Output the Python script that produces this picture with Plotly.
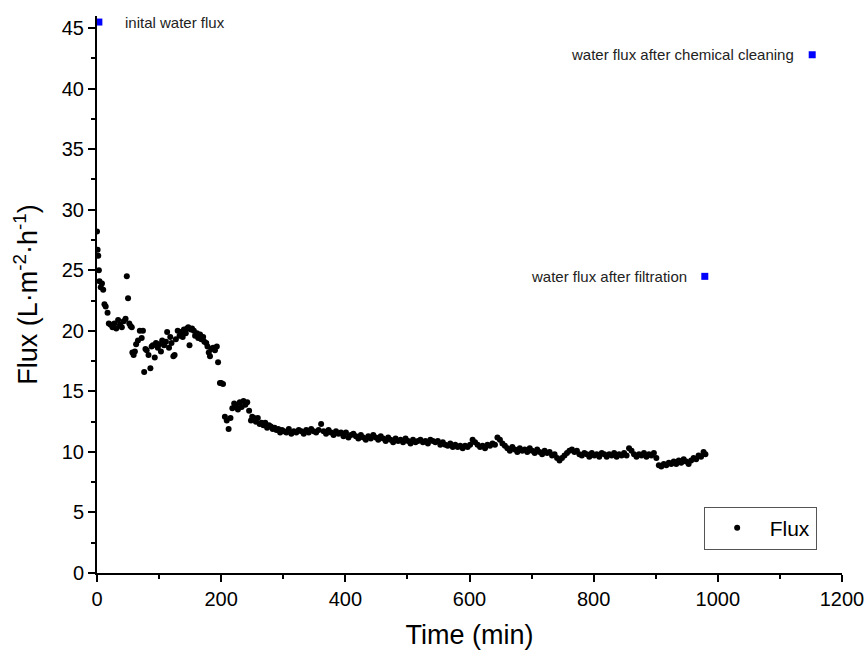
import plotly.graph_objects as go

# Flux measurement data (Time in min, Flux in L·m-2·h-1)
time_min = [
    0, 1, 2, 3, 4, 6, 8, 10, 12, 14, 17, 19, 22, 25, 28, 31, 34, 37, 40, 43, 46, 48, 50, 52, 54, 56, 57, 59, 61, 63,
    66, 69, 72, 74, 76, 78, 80, 83, 86, 88, 90, 93, 95, 98, 100, 103, 105, 108, 111, 113, 116, 118, 120, 123, 125,
    127, 130, 133, 135, 138, 140, 143, 145, 147, 149, 151, 153,
    156, 158, 161, 163, 166, 168, 171, 173, 176, 178, 180, 182, 184, 187, 190, 193, 195, 198, 200, 203, 206, 209, 212, 215,
    218, 221, 224, 227, 230, 233, 236, 239, 242, 245, 248, 250, 253, 256, 259, 262, 265, 268, 271, 274, 277, 280, 283,
    286, 289, 292, 295, 298,
    301, 305, 309, 313, 317, 321, 325, 329, 333, 337, 341, 345, 349, 353, 357, 361, 365, 369, 373, 377, 381, 385, 389,
    393, 397, 401, 405, 409, 413, 417,
    421, 425, 429, 433, 437, 441, 445, 449, 453, 457, 461, 465, 469, 473, 477, 481, 485, 489, 493, 497, 501, 505, 509,
    513, 517, 521, 525, 529, 533, 537, 541, 545, 549, 553, 557,
    561, 565, 569, 573, 577, 581, 585, 589, 593, 597, 601, 605, 609, 613, 617, 621, 625, 629, 633, 637, 641, 645, 649,
    653, 657, 661, 665, 669, 673, 677, 681, 685, 689, 693, 697,
    701, 705, 709, 713, 717, 721, 725, 729, 733, 737, 741, 745, 749, 753, 757, 761, 765, 769, 773, 777, 781, 785, 789,
    793, 797, 801, 805, 809, 813, 817, 821, 825, 829, 833, 837, 841, 845, 849, 853, 857, 861,
    865, 869, 873, 877, 881, 885, 889, 893, 897, 901, 905, 909, 913, 917, 921, 925, 929, 933, 937, 941, 945, 949, 953,
    957, 961, 965, 969, 973, 977, 980,
]
flux = [
    28.2, 26.7, 26.2, 25.0, 24.1, 23.6, 23.9, 23.4, 22.2, 22.0, 21.5, 20.6, 20.5, 20.3, 20.6, 20.2, 20.9, 20.5, 20.3,
    20.8, 21.0, 24.5, 22.7, 20.6, 20.4, 20.3, 18.2, 18.0, 18.3, 18.9,
    19.2, 20.0, 19.4, 20.0, 16.6, 18.5, 18.4, 18.0, 16.9, 18.7, 18.8, 17.8, 19.0, 18.6, 18.9, 18.3, 19.2, 18.8, 19.1,
    19.9, 18.6, 19.5, 19.0, 17.9, 18.0, 19.3, 20.0, 19.6, 19.9, 19.5, 20.1, 19.8, 20.2, 20.3, 18.8, 20.1, 20.2,
    20.0, 19.6, 19.8, 19.4, 19.7, 19.3, 19.5, 19.1, 19.0, 18.7, 18.2, 17.9, 18.5, 18.6, 18.4, 18.7, 17.4, 15.7, 15.7,
    15.6, 12.9, 12.6, 11.9, 12.8,
    13.6, 14.0, 13.8, 13.5, 14.1, 13.7, 14.2, 13.9, 14.1, 13.4, 12.6, 12.9, 12.8, 12.5, 12.8, 12.3, 12.4, 12.2, 12.4,
    12.0, 12.2, 12.1, 11.9, 12.0, 11.8, 11.9, 11.6, 11.8,
    11.7, 11.6, 11.9, 11.5, 11.7, 11.6, 11.8, 11.7, 11.5, 11.8, 11.6, 11.9, 11.7, 11.6, 11.8, 12.3, 11.7, 11.5, 11.8,
    11.6, 11.4, 11.7, 11.5, 11.6, 11.3, 11.6, 11.2, 11.4, 11.5, 11.3,
    11.1, 11.4, 11.2, 11.0, 11.3, 11.1, 11.4, 11.2, 11.0, 11.3, 11.1, 10.9, 11.2, 11.0, 10.8, 11.1, 10.9, 11.0, 10.8,
    11.1, 10.9, 10.7, 11.0, 10.8, 10.9, 11.0, 10.8, 10.9, 10.7, 11.0, 10.9, 10.8, 10.9, 10.6, 10.8,
    10.6, 10.5, 10.7, 10.4, 10.6, 10.4, 10.5, 10.3, 10.5, 10.4, 10.6, 11.0, 10.8, 10.6, 10.4, 10.5, 10.3, 10.6, 10.5,
    10.7, 10.6, 11.2, 11.0, 10.7, 10.5, 10.3, 10.1, 10.4, 10.2, 10.0, 10.3, 10.1, 10.2, 10.0, 10.3,
    10.1, 9.9, 10.2, 10.0, 9.8, 10.1, 9.9, 10.0, 9.7, 9.8, 9.5, 9.3, 9.5, 9.7, 9.9, 10.1, 10.2, 10.0, 10.1, 9.8, 9.7,
    9.9, 9.8, 9.6, 9.9, 9.7, 9.8, 9.6, 9.9, 9.8, 9.6, 9.8, 9.7, 9.9, 9.6, 9.8, 9.7, 9.9, 9.7, 10.3, 10.1,
    9.8, 9.6, 9.8, 9.7, 9.9, 9.6, 9.8, 9.7, 9.9, 9.5, 8.9, 8.8, 9.0, 8.9, 9.1, 9.0, 9.2, 9.0, 9.3, 9.1, 9.4, 9.2, 9.0,
    9.3, 9.5, 9.4, 9.7, 9.6, 10.0, 9.8,
]

# Water flux reference points
water_time = [3, 1152, 979]
water_flux = [45.5, 42.8, 24.5]
water_labels = ["inital water flux", "water flux after chemical cleaning", "water flux after filtration"]
label_side = ["right", "left", "left"]

FONT = "Liberation Sans, Arial, sans-serif"

fig = go.Figure()
fig.add_trace(go.Scatter(
    x=time_min, y=flux, mode="markers", name="Flux",
    marker=dict(color="black", size=6),
))
fig.add_trace(go.Scatter(
    x=water_time, y=water_flux, mode="markers", showlegend=False,
    marker=dict(color="#0000ff", size=7, symbol="square"),
))

for t, f, lab, side in zip(water_time, water_flux, water_labels, label_side):
    fig.add_annotation(
        x=t, y=f, xref="x", yref="y", text=lab, showarrow=False,
        xanchor="left" if side == "right" else "right",
        xshift=24 if side == "right" else -16,
        font=dict(size=15, color="#222222", family=FONT),
    )

axis_common = dict(
    showline=True, linecolor="black", linewidth=2, mirror=False,
    ticks="outside", ticklen=7, tickwidth=2, tickcolor="black",
    showgrid=False, zeroline=False, automargin=False,
    tickfont=dict(size=20, color="black", family=FONT),
)

fig.update_xaxes(
    range=[0, 1200], dtick=200, tick0=0,
    minor=dict(ticks="outside", ticklen=4, tickwidth=2, tickcolor="black", dtick=100, showgrid=False),
    title=dict(text="Time (min)", font=dict(size=27, color="black", family=FONT), standoff=16),
    **axis_common,
)
fig.update_yaxes(
    range=[0, 46], dtick=5, tick0=0,
    minor=dict(ticks="outside", ticklen=4, tickwidth=2, tickcolor="black", dtick=2.5, showgrid=False),
    title=dict(text="Flux (L·m<sup>-2</sup>·h<sup>-1</sup>)", font=dict(size=27, color="black", family=FONT), standoff=16),
    **axis_common,
)

fig.update_layout(
    width=867, height=654,
    margin=dict(l=97, r=25, t=16, b=81),
    plot_bgcolor="white", paper_bgcolor="white",
    font=dict(family=FONT, color="black"),
    legend=dict(
        x=0.966, y=0.119, xanchor="right", yanchor="top",
        bordercolor="#555555", borderwidth=1, bgcolor="white",
        font=dict(size=21, color="black", family=FONT),
        itemwidth=55,
    ),
)

fig.write_html(
    "out.html",
    config={"displayModeBar": False},
    post_script="document.body.style.margin='0';document.body.style.overflow='hidden';",
)
